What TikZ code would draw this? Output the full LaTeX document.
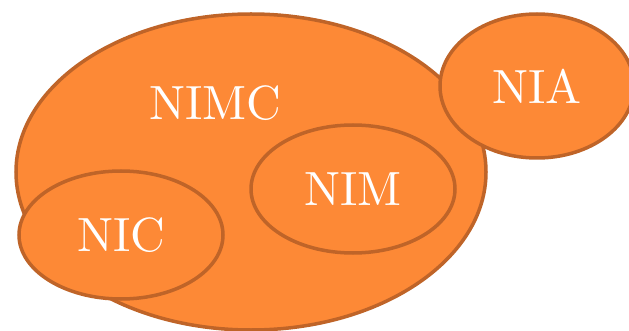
\documentclass[tikz,border=0pt]{standalone}
\usetikzlibrary{shapes.geometric}
\definecolor{setfill}{HTML}{FD8936}
\definecolor{setline}{HTML}{BF6428}
\newcommand{\biglabel}[1]{\scalebox{4.8}{#1}}
\tikzset{
  setblob/.style={ellipse, draw=setline, fill=setfill, line width=3.5pt, inner sep=0pt,
    text=white, font=\normalsize},
  setlabel/.style={text=white, font=\normalsize, inner sep=0pt}
}
\begin{document}
\begin{tikzpicture}[x=1pt,y=-1pt]
\useasboundingbox (0,0) rectangle (629,331);
\node[setblob, minimum width=470, minimum height=316] (nimc) at (251,172) {};
\node[setlabel] (nimclabel) at (215,103) {\biglabel{NIMC}};
\node[setblob, minimum width=194, minimum height=144] (nia) at (537,86) {\biglabel{NIA}};
\node[setblob, minimum width=204, minimum height=128] (nim) at (353,189) {\biglabel{NIM}};
\node[setblob, minimum width=204, minimum height=128] (nic) at (121,235) {\biglabel{NIC}};
\end{tikzpicture}
\end{document}
